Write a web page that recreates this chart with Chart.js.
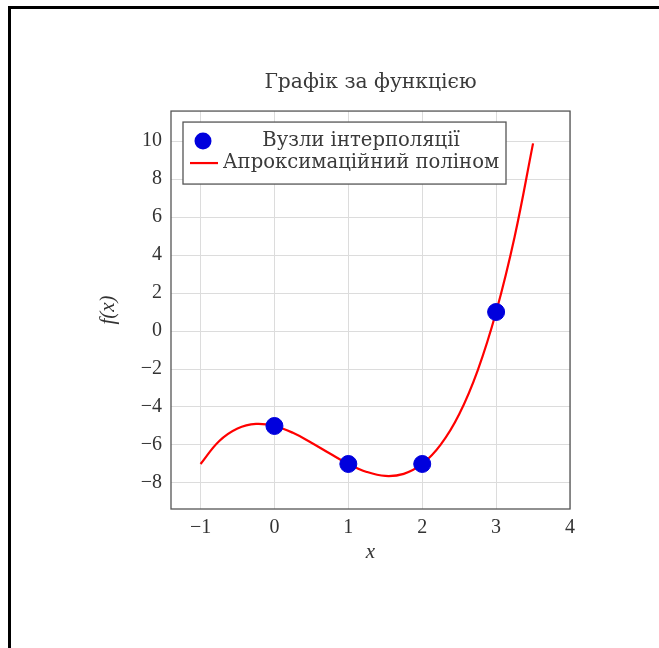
<!DOCTYPE html>
<html>
<head>
<meta charset="utf-8">
<script src="https://cdn.jsdelivr.net/npm/chart.js@4.4.1/dist/chart.umd.min.js"></script>
<style>
  body { margin: 0; background: #fff; }
  #wrap { position: relative; width: 659px; height: 648px; overflow: hidden; }
  #frame { position: absolute; left: 8px; top: 6px; width: 660px; height: 660px;
           border-top: 3px solid #000; border-left: 3px solid #000; }
  canvas { position: absolute; left: 0; top: 0; }
</style>
</head>
<body>
<div id="wrap">
  <div id="frame"></div>
  <canvas id="chart" width="659" height="648"></canvas>
</div>
<script>
// вузли інтерполяції
const nodeX = [0, 1, 2, 3];
const nodeY = [-5, -7, -7, 1];

// апроксимаційний поліном
const curveX = [-1, -0.75, -0.5, -0.25, 0, 0.25, 0.5, 0.75, 1, 1.25, 1.5, 1.75, 2, 2.25, 2.5, 2.75, 3, 3.25, 3.5];
const curveY = [-7, -5.80, -5.13, -4.89, -5, -5.36, -5.88, -6.45, -7, -7.42, -7.63, -7.52, -7, -5.98, -4.38, -2.08, 1, 4.95, 9.88];

const xTicks = [-1, 0, 1, 2, 3, 4];
const yTicks = [-8, -6, -4, -2, 0, 2, 4, 6, 8, 10];

const seriesNames = ['Вузли інтерполяції', 'Апроксимаційний поліном'];

const SERIF = '"Liberation Serif", "DejaVu Serif", serif';
const TEXT = '"DejaVu Serif", "Liberation Serif", serif';
const fmt = v => String(v).replace('-', '\u2212');

// рамка навколо області графіка
const boxPlugin = {
  id: 'box',
  afterDatasetsDraw(chart) {
    const { ctx, chartArea: a } = chart;
    ctx.save();
    ctx.strokeStyle = '#555';
    ctx.lineWidth = 1.3;
    ctx.strokeRect(a.left, a.top, a.right - a.left, a.bottom - a.top);
    ctx.restore();
  }
};

// легенда всередині області графіка
const legendBox = {
  id: 'legendBox',
  afterDatasetsDraw(chart) {
    const { ctx, chartArea: a } = chart;
    const x0 = a.left + 12, y0 = a.top + 11, w = 323, h = 62;
    ctx.save();
    ctx.fillStyle = '#fff';
    ctx.fillRect(x0, y0, w, h);
    ctx.strokeStyle = '#555';
    ctx.lineWidth = 1.3;
    ctx.strokeRect(x0, y0, w, h);

    ctx.fillStyle = '#0000dd';
    ctx.beginPath();
    ctx.arc(x0 + 20, y0 + 19, 8.5, 0, Math.PI * 2);
    ctx.fill();

    ctx.strokeStyle = '#ff0000';
    ctx.lineWidth = 2.2;
    ctx.beginPath();
    ctx.moveTo(x0 + 7, y0 + 41);
    ctx.lineTo(x0 + 35, y0 + 41);
    ctx.stroke();

    ctx.fillStyle = '#3a3a3a';
    ctx.font = '19.6px ' + TEXT;
    ctx.textAlign = 'center';
    ctx.textBaseline = 'middle';
    const cx = x0 + 39 + (w - 45) / 2;
    ctx.fillText(seriesNames[0], cx, y0 + 19);
    ctx.fillText(seriesNames[1], cx, y0 + 41);
    ctx.restore();
  }
};

new Chart(document.getElementById('chart'), {
  type: 'line',
  data: {
    datasets: [
      {
        label: seriesNames[1],
        data: curveX.map((x, i) => ({ x, y: curveY[i] })),
        borderColor: '#ff0000',
        borderWidth: 2.2,
        pointRadius: 0,
        tension: 0.4,
        fill: false,
        order: 2
      },
      {
        type: 'scatter',
        label: seriesNames[0],
        data: nodeX.map((x, i) => ({ x, y: nodeY[i] })),
        backgroundColor: '#0000dd',
        borderColor: '#0000dd',
        pointRadius: 8.5,
        order: 1
      }
    ]
  },
  options: {
    responsive: false,
    animation: false,
    layout: { padding: { top: 0, right: 89, bottom: 0, left: 0 } },
    plugins: {
      legend: { display: false },
      tooltip: { enabled: false },
      title: {
        display: true,
        fullSize: false,
        text: 'Графік за функцією',
        color: '#3a3a3a',
        font: { family: TEXT, size: 20.3, weight: 'normal', lineHeight: 1.2 },
        padding: { top: 70.5, bottom: 16.2 }
      }
    },
    scales: {
      x: {
        type: 'linear',
        min: -1.4,
        max: 4,
        afterBuildTicks: s => { s.ticks = xTicks.map(v => ({ value: v })); },
        afterFit: s => { s.height = 139; },
        grid: { color: '#dcdcdc', drawTicks: false },
        border: { display: false },
        ticks: {
          color: '#333',
          padding: 7,
          font: { family: SERIF, size: 20 },
          callback: v => fmt(v)
        },
        title: {
          display: true,
          text: 'x',
          color: '#333',
          font: { family: SERIF, size: 21, style: 'italic', lineHeight: 1.2 },
          padding: { top: 0, bottom: 83 }
        }
      },
      y: {
        type: 'linear',
        min: -9.37,
        max: 11.58,
        afterBuildTicks: s => { s.ticks = yTicks.map(v => ({ value: v })); },
        afterFit: s => { s.width = 171; },
        grid: { color: '#dcdcdc', drawTicks: false },
        border: { display: false },
        ticks: {
          color: '#333',
          padding: 9,
          font: { family: SERIF, size: 20 },
          callback: v => fmt(v)
        },
        title: {
          display: true,
          text: 'f(x)',
          color: '#333',
          font: { family: SERIF, size: 21, style: 'italic', lineHeight: 1.2 },
          padding: { top: 96, bottom: 0 }
        }
      }
    }
  },
  plugins: [boxPlugin, legendBox]
});
</script>
</body>
</html>
